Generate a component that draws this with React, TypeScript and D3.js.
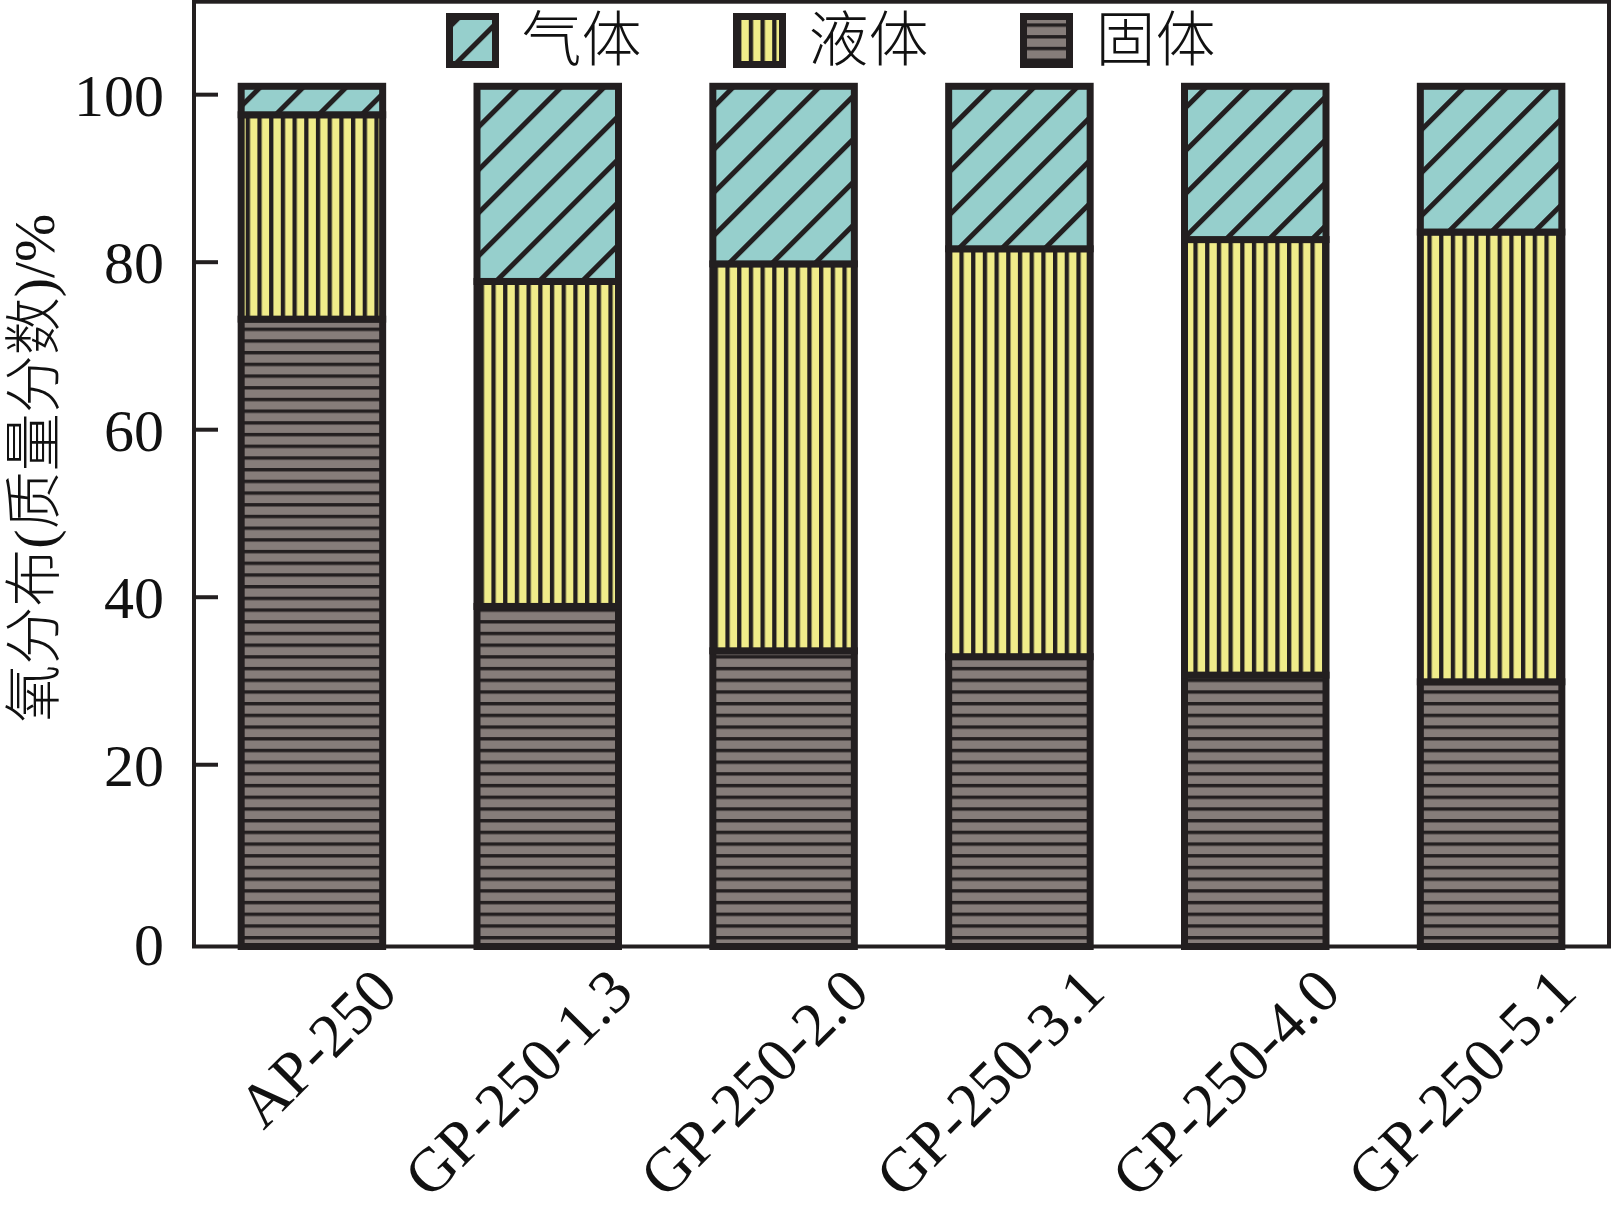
import React, { useEffect, useRef } from "react"
import * as d3 from "d3"

// ---------- Data ----------
const categories = ["AP-250", "GP-250-1.3", "GP-250-2.0", "GP-250-3.1", "GP-250-4.0", "GP-250-5.1"]
const solidValues = [73.2, 38.9, 33.6, 32.9, 30.7, 29.9]
const liquidValues = [24.4, 38.8, 46.2, 48.7, 52.0, 53.7]
const gasValues = [3.4, 23.3, 21.2, 19.4, 18.3, 17.4]
const seriesKeys = ["solid", "liquid", "gas"]
const legendLabels = ["气体", "液体", "固体"]
const legendKeys = ["gas", "liquid", "solid"]
const yTicks = [0, 20, 40, 60, 80, 100]
const yDomain: [number, number] = [-1.7, 111.1]
const yTitle = "氧分布(质量分数)/%"

const DARK = "#231f20"
const serif = "'Liberation Serif', 'Times New Roman', serif"
const cjk = "'Liberation Serif', 'Noto Sans CJK SC', sans-serif"

const App: React.FC = () => {
    const svgRef = useRef<SVGSVGElement>(null)
    const width = 1614
    const height = 1213

    useEffect(() => {
        if (!svgRef.current) return
        const svg = d3.select(svgRef.current)
        svg.selectAll("*").remove()

        const margin = { top: 1.7, right: 5, bottom: height - 946.5, left: 194 }
        const innerW = width - margin.left - margin.right
        const innerH = height - margin.top - margin.bottom

        // patterns
        const defs = svg.append("defs")
        const gas = defs.append("pattern").attr("id", "pat-gas")
            .attr("patternUnits", "userSpaceOnUse").attr("width", 30.4).attr("height", 10)
            .attr("patternTransform", "rotate(45)")
        gas.append("rect").attr("width", 30.4).attr("height", 10).attr("fill", "#96cfcc")
        gas.append("rect").attr("width", 5).attr("height", 10).attr("fill", DARK)

        const liquid = defs.append("pattern").attr("id", "pat-liquid")
            .attr("patternUnits", "userSpaceOnUse").attr("width", 11.7).attr("height", 10)
        liquid.append("rect").attr("width", 11.7).attr("height", 10).attr("fill", "#f0ec8a")
        liquid.append("rect").attr("width", 4.3).attr("height", 10).attr("fill", DARK)

        const solid = defs.append("pattern").attr("id", "pat-solid")
            .attr("patternUnits", "userSpaceOnUse").attr("width", 10).attr("height", 11.7)
        solid.append("rect").attr("width", 10).attr("height", 11.7).attr("fill", "#867d7a")
        solid.append("rect").attr("width", 10).attr("height", 3.4).attr("fill", DARK)

        const fillFor: Record<string, string> = {
            gas: "url(#pat-gas)",
            liquid: "url(#pat-liquid)",
            solid: "url(#pat-solid)"
        }

        // scales
        const x = d3.scaleBand<string>()
            .domain(categories)
            .range([margin.left, margin.left + innerW])
            .paddingInner(0.4)
            .paddingOuter(0.2)

        const y = d3.scaleLinear()
            .domain(yDomain)
            .range([margin.top + innerH, margin.top])

        // frame
        svg.append("rect")
            .attr("x", margin.left).attr("y", margin.top)
            .attr("width", innerW).attr("height", innerH)
            .attr("fill", "none").attr("stroke", DARK).attr("stroke-width", 4)

        // stacked bars (solid starts at the axis bottom)
        const rows = categories.map((c, i) => ({
            cat: c, solid: solidValues[i], liquid: liquidValues[i], gas: gasValues[i]
        }))
        const stacked = d3.stack<any>().keys(seriesKeys)(rows)

        stacked.forEach(layer => {
            svg.append("g")
                .selectAll("rect")
                .data(layer)
                .enter()
                .append("rect")
                .attr("x", d => x(d.data.cat) ?? 0)
                .attr("width", x.bandwidth())
                .attr("y", d => y(d[1]))
                .attr("height", d => y(d[0] === 0 ? yDomain[0] : d[0]) - y(d[1]))
                .attr("fill", fillFor[layer.key])
                .attr("stroke", DARK)
                .attr("stroke-width", 7)
        })

        // y ticks (inward, none at 0)
        svg.append("g")
            .selectAll("line")
            .data(yTicks.filter(t => t > 0))
            .enter()
            .append("line")
            .attr("x1", margin.left).attr("x2", margin.left + 24)
            .attr("y1", d => y(d)).attr("y2", d => y(d))
            .attr("stroke", DARK).attr("stroke-width", 4)

        svg.append("g")
            .selectAll("text")
            .data(yTicks)
            .enter()
            .append("text")
            .attr("x", margin.left - 30)
            .attr("y", d => (d === 0 ? y(yDomain[0]) - 3 : y(d)))
            .attr("dy", "0.35em")
            .attr("text-anchor", "end")
            .attr("font-family", serif)
            .attr("font-size", 60)
            .attr("fill", "#111")
            .text(d => d)

        // x labels
        svg.append("g")
            .selectAll("text")
            .data(categories)
            .enter()
            .append("text")
            .attr("transform", d => `translate(${(x(d) ?? 0) + x.bandwidth() / 2 + 88},${y(yDomain[0]) + 48}) rotate(-45)`)
            .attr("text-anchor", "end")
            .attr("font-family", serif)
            .attr("font-size", 62)
            .attr("fill", "#111")
            .text(d => d)

        // y title
        svg.append("text")
            .attr("transform", `translate(34,${(y(yDomain[0]) + y(yDomain[1])) / 2 - 6}) rotate(-90)`)
            .attr("text-anchor", "middle")
            .attr("dominant-baseline", "central")
            .attr("font-family", cjk)
            .attr("font-weight", 300)
            .attr("font-size", 58)
            .attr("fill", "#111")
            .text(yTitle)

        // legend
        const legend = svg.append("g")
        legendKeys.forEach((k, i) => {
            const lx = 449.5 + i * 287
            legend.append("rect")
                .attr("x", lx).attr("y", 16.5)
                .attr("width", 46).attr("height", 48)
                .attr("fill", fillFor[k])
                .attr("stroke", DARK).attr("stroke-width", 7)
            legend.append("text")
                .attr("x", lx + 72).attr("y", 40.5)
                .attr("dominant-baseline", "central")
                .attr("font-family", cjk)
                .attr("font-weight", 300)
                .attr("font-size", 60)
                .attr("fill", "#111")
                .text(legendLabels[i])
        })
    }, [])

    return (
        <div>
            <style>{`body{margin:0}`}</style>
            <svg ref={svgRef} width={width} height={height} style={{ display: "block", background: "#fff" }} />
        </div>
    )
}

export default App
